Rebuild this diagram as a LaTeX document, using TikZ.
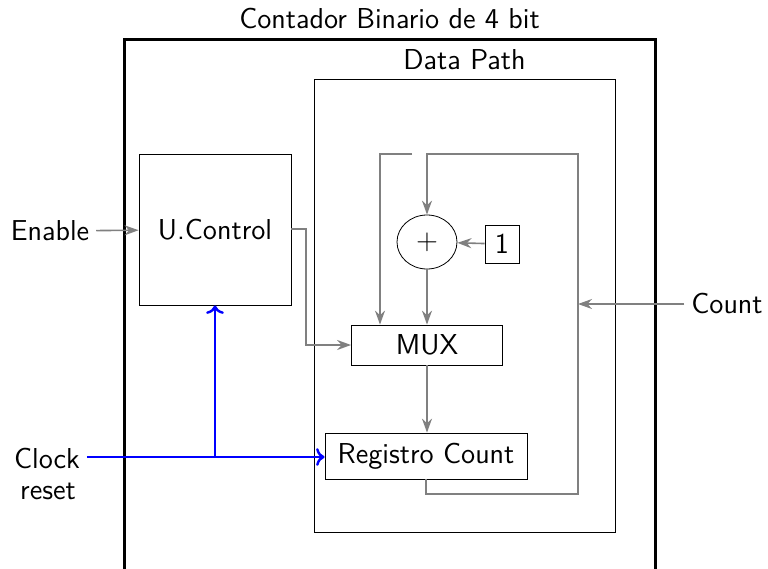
\documentclass[tikz,border=0pt]{standalone}
\usepackage{tikz}
\usetikzlibrary{shapes.geometric,arrows.meta}
\renewcommand{\familydefault}{\sfdefault}

\tikzset{
  bloque/.style={draw,inner sep=2pt,font=\Large},
  gris/.style={draw=gray,thick,-{Stealth[length=7pt,width=5pt]}},
  reloj/.style={draw=blue,very thick,->},
}

\begin{document}
\begin{tikzpicture}[x=0.5pt,y=-0.5pt]
\useasboundingbox (0,0) rectangle (768,569);
\node[draw,line width=1.5pt,minimum width=265.5pt,minimum height=270pt] (contador) at (389.5,309) {};
\node[font=\Large,above=1pt] (titulo) at (contador.north) {Contador Binario de 4 bit};
\node[draw,minimum width=150.5pt,minimum height=226.5pt] (datapath) at (464.5,305.5) {};
\node[font=\Large,above=1pt] (dptitulo) at (datapath.north) {Data Path};
\node[bloque,minimum width=76pt,minimum height=75.5pt] (control) at (215,229.5) {U.Control};
\node[bloque,ellipse,minimum width=30pt,minimum height=27pt] (suma) at (427,242) {$+$};
\node[bloque,minimum width=17pt,minimum height=19pt] (uno) at (502,244) {1};
\node[bloque,minimum width=75.5pt,minimum height=20pt] (mux) at (427,345) {MUX};
\node[bloque,minimum width=101pt,minimum height=23pt] (registro) at (426,456) {Registro Count};
\node[font=\Large] (enable) at (50,231) {Enable};
\node[font=\Large] (count) at (727,304) {Count};
\node[font=\Large] (clock) at (47,458) {Clock};
\node[font=\Large] (reset) at (48,491) {reset};

\coordinate (fb) at (578,154);
\draw[gris] (enable) -- (control);
\draw[gris] (uno) -- (suma);
\draw[gris] (suma) -- (mux);
\draw[gris] (mux) -- (mux |- registro.north);
\draw[gris] (count) -- (fb |- count);
\draw[gris] (control.east |- 0,229) -| (306,345) -- (mux.west |- 0,345);
\draw[gris] (registro.south) |- (578,494) -- (fb) -| (suma.north);
\draw[gris] (412,154) -| (mux.north -| 380,0);
\draw[reloj] (clock.east |- 0,457) -- (registro.west |- 0,457);
\draw[reloj] (215,457) -- (control.south);
\end{tikzpicture}
\end{document}
